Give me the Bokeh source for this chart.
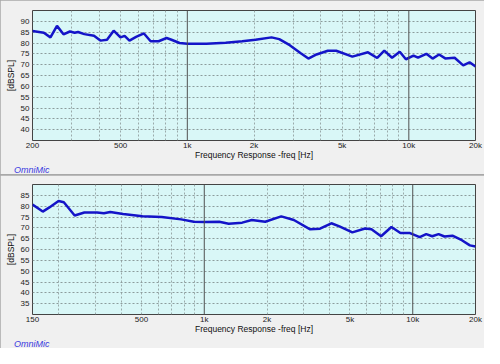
import math
from bokeh.plotting import figure
from bokeh.layouts import column
from bokeh.models import Range1d, FixedTicker, Span, Title, BasicTickFormatter
from bokeh.embed import file_html
from bokeh.resources import INLINE

# ---- data ----
top_freq = [200, 225, 241, 258, 276, 295, 310, 321, 343, 379, 405, 434, 465, 499, 521, 548,
            587, 637, 683, 742, 806, 848, 922, 1000, 1220, 1490, 1770, 2030, 2400, 2600,
            2900, 3240, 3520, 3830, 4310, 4700, 5560, 6540, 7200, 7750, 8400, 9100, 9700,
            10500, 11000, 12000, 12800, 13700, 14600, 16100, 17600, 18800, 20000]
top_db = [85.5, 84.7, 82.6, 87.9, 84.0, 85.3, 84.7, 85.1, 84.1, 83.3, 81.1, 81.5, 85.7, 82.6,
          83.3, 81.1, 82.8, 84.4, 80.8, 80.8, 82.3, 81.5, 80.0, 79.6, 79.6, 80.1, 80.8, 81.5,
          82.6, 81.8, 79.0, 75.4, 72.8, 74.7, 76.4, 76.4, 73.7, 75.7, 73.1, 76.5, 73.2, 76.0,
          72.5, 74.2, 73.2, 75.0, 72.8, 74.7, 72.9, 73.2, 69.7, 71.1, 69.2]

bot_freq = [150, 168, 180, 200, 212, 239, 266, 306, 330, 354, 408, 505, 625, 775, 891, 1000,
            1180, 1310, 1520, 1690, 1960, 2340, 2690, 3220, 3590, 4070, 4450, 5130, 5910,
            6340, 7050, 7900, 8730, 9700, 10800, 11600, 12400, 13300, 14200, 15500, 17200,
            18800, 20000]
bot_db = [80.7, 77.5, 79.3, 82.4, 81.8, 75.7, 77.1, 77.1, 76.7, 77.3, 76.4, 75.4, 75.0, 73.9,
          72.8, 72.7, 72.8, 71.9, 72.4, 73.6, 72.8, 75.3, 73.6, 69.3, 69.6, 72.1, 70.7, 67.9,
          69.7, 69.3, 66.1, 70.4, 67.6, 67.6, 65.7, 67.1, 66.1, 67.1, 66.0, 66.4, 64.3, 61.9, 61.4]

top_x_ticks = [200, 500, 1000, 2000, 5000, 10000, 20000]
top_x_labels = ["200", "500", "1k", "2k", "5k", "10k", "20k"]
bot_x_ticks = [150, 500, 1000, 2000, 5000, 10000, 20000]
bot_x_labels = ["150", "500", "1k", "2k", "5k", "10k", "20k"]
top_y_ticks = [40, 45, 50, 55, 60, 65, 70, 75, 80, 85, 90]
bot_y_ticks = [35, 40, 45, 50, 55, 60, 65, 70, 75, 80, 85]
top_grid_x = [300, 400, 500, 600, 700, 800, 900, 2000, 3000, 4000, 5000, 6000, 7000, 8000, 9000]
bot_grid_x = [200, 300, 400, 500, 600, 700, 800, 900, 2000, 3000, 4000, 5000, 6000, 7000, 8000, 9000]
decades = [1000, 10000]

FONT = "Liberation Sans"
BG = "#f0f0f0"
PLOT_BG = "#d9f7f7"
LINE = "#1414c8"

W = 484
BL, BR = 32, 9


def make_panel(freq, db, xr, yr, xticks, xlabels, yticks, gridx, h, btop, bbot):
    p = figure(width=W, height=h, x_axis_type="log", output_backend="svg",
               toolbar_location=None, x_range=Range1d(*xr), y_range=Range1d(*yr),
               min_border_left=BL, min_border_right=BR, min_border_top=btop,
               min_border_bottom=bbot)
    p.background_fill_color = PLOT_BG
    p.border_fill_color = BG
    p.outline_line_color = "#444444"
    p.outline_line_width = 1

    p.xaxis.ticker = FixedTicker(ticks=xticks)
    p.xaxis.formatter = BasicTickFormatter()
    p.xaxis.major_label_overrides = {t: l for t, l in zip(xticks, xlabels)}
    p.yaxis.ticker = FixedTicker(ticks=yticks)
    for ax in (p.xaxis[0], p.yaxis[0]):
        ax.axis_line_color = None
        ax.major_tick_line_color = None
        ax.minor_tick_line_color = None
        ax.major_tick_out = 0
        ax.major_tick_in = 0
        ax.minor_tick_out = 0
        ax.major_label_text_font = FONT
        ax.major_label_text_font_size = "8px"
        ax.major_label_text_color = "#222222"
        ax.axis_label_text_font = FONT
        ax.axis_label_text_font_size = "8.5px"
        ax.axis_label_text_font_style = "normal"
        ax.axis_label_text_color = "#111111"
    p.xaxis.major_label_standoff = 0
    p.yaxis.major_label_standoff = 3
    p.xaxis.axis_label = "Frequency Response -freq [Hz]"
    p.xaxis.axis_label_standoff = -3
    p.yaxis.axis_label = "[dBSPL]"
    p.yaxis.axis_label_standoff = 2

    p.ygrid.ticker = FixedTicker(ticks=yticks)
    p.ygrid.grid_line_color = "#8c9c9c"
    p.ygrid.grid_line_dash = "2 2"
    p.xgrid.ticker = FixedTicker(ticks=gridx)
    p.xgrid.grid_line_color = "#9aaaaa"
    p.xgrid.grid_line_dash = "2 2"

    for d in decades:
        p.add_layout(Span(location=d, dimension="height", line_color="#505050", line_width=1))

    p.line(freq, db, color=LINE, line_width=2.5)

    # "OmniMic" caption under the axis, at the lower left
    p.add_layout(Title(text="OmniMic", align="left", offset=-18.5, standoff=0,
                       text_font=FONT, text_font_size="9px", text_font_style="italic",
                       text_color="#3a3ae0"), "below")
    return p


top = make_panel(top_freq, top_db, (200, 20000), (35, 95), top_x_ticks, top_x_labels,
                 top_y_ticks, top_grid_x, 174, 10, 32)
bot = make_panel(bot_freq, bot_db, (150, 20000), (30, 90), bot_x_ticks, bot_x_labels,
                 bot_y_ticks, bot_grid_x, 173, 9, 31)

layout = column(top, bot, spacing=1, styles={"background-color": "#a8a8a8"})

open("out.html", "w").write(file_html(layout, INLINE))
